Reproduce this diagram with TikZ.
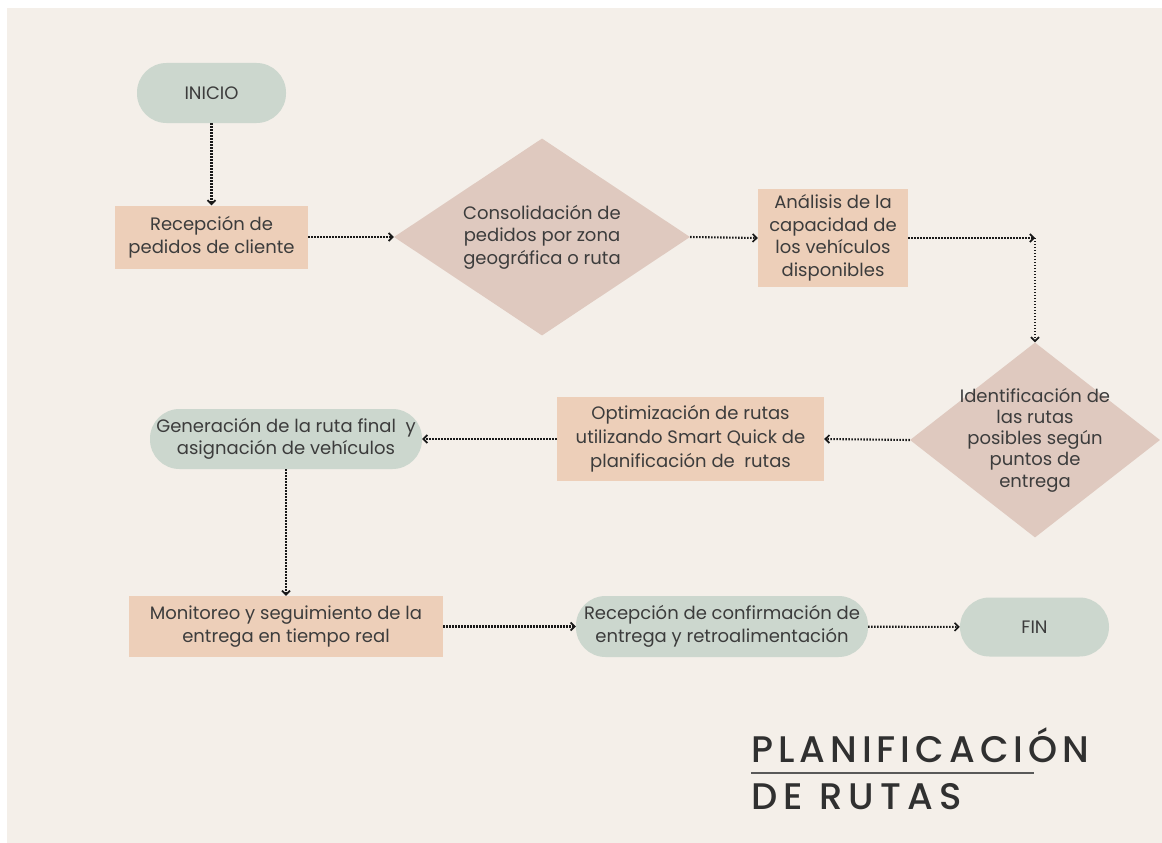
\documentclass[tikz,border=0pt]{standalone}
\usepackage{fontspec}
\setmainfont{Poppins}
\newfontfamily\titlefont[LetterSpace=13.5]{Poppins Medium}
\newfontfamily\titlefontwide[LetterSpace=17]{Poppins Medium}
\usetikzlibrary{arrows.meta,shapes.geometric}
\definecolor{paper}{HTML}{F4EFE9}
\definecolor{sage}{HTML}{CCD7CE}
\definecolor{peach}{HTML}{EDCFB9}
\definecolor{rose}{HTML}{DFC9BF}
\definecolor{ink}{HTML}{3C3C3C}
\definecolor{titleink}{HTML}{303030}

\begin{document}
\begin{tikzpicture}[x=1pt,y=-1pt,
  txt/.style={text=ink,font=\fontsize{18}{22.5}\selectfont,align=center,inner sep=0pt},
  term/.style={txt,fill=sage,rounded corners=29.5pt},
  proc/.style={txt,fill=peach},
  dec/.style={diamond,fill=rose,inner sep=0pt},
  flow/.style={line width=2.1pt,dash pattern=on 1.4pt off 1.6pt,color=black!90,
    -{Straight Barb[length=4pt,width=8pt,line width=1.7pt]}}
]
% page and paper
\useasboundingbox (0,0) rectangle (1162,843);
\fill[white] (0,0) rectangle (1162,843);
\fill[paper] (7,8) rectangle (1162,843);

% first row
\node[term,minimum width=149pt,minimum height=60pt] (start) at (211.5,93) {INICIO};
\node[proc,minimum width=193pt,minimum height=63pt] (recep) at (211.5,237) {Recepción de\\pedidos de cliente};
\node[dec,minimum width=296pt,minimum height=197pt] (cons) at (542,237) {};
\node[txt] (constext) at (cons) {Consolidación de\\pedidos por zona\\geográfica o ruta};
\node[proc,minimum width=150pt,minimum height=98pt] (anal) at (833,238) {Análisis de la\\capacidad de\\los vehículos\\disponibles};

% second row
\node[dec,minimum width=250pt,minimum height=195pt] (ident) at (1035,440) {};
\node[txt,font=\fontsize{18}{21.2}\selectfont] (identtext) at (ident) {Identificación de\\las rutas\\posibles según\\puntos de\\entrega};
\node[proc,minimum width=267pt,minimum height=84pt,font=\fontsize{18}{24}\selectfont] (optim) at (690.5,439) {Optimización de rutas\\utilizando Smart Quick de\\planificación de\ \ rutas};
\node[term,minimum width=272pt,minimum height=60pt] (gener) at (286,439) {Generación de la ruta final\ \ y\\asignación de vehículos};

% third row
\node[proc,minimum width=314pt,minimum height=61pt] (monit) at (286,626.5) {Monitoreo y seguimiento de la\\entrega en tiempo real};
\node[term,minimum width=292pt,minimum height=61pt] (confirm) at (722,626.5) {Recepción de confirmación de\\entrega y retroalimentación};
\node[term,minimum width=149pt,minimum height=59pt] (fin) at (1034.5,627) {FIN};

% connectors
\coordinate (bend) at (ident.north |- anal.east);
\draw[flow] (start) -- (recep);
\draw[flow] (recep) -- (cons.west);
\draw[flow] (cons.east) -- (anal.west);
\draw[flow] (anal.east) -- (bend);
\draw[flow] (bend) -- (ident.north);
\draw[flow] (ident.west) -- (optim.east);
\draw[flow] (optim.west) -- (gener.east);
\draw[flow] (gener) -- (monit);
\draw[flow] (monit) -- (confirm);
\draw[flow] (confirm) -- (fin);

% title
\node[anchor=base west,inner sep=0pt,text=titleink,font=\titlefont\fontsize{37}{37}\selectfont] (title1) at (751,762) {PLANIFICACIÓN};
\node[anchor=base west,inner sep=0pt,text=titleink,font=\titlefontwide\fontsize{37}{37}\selectfont] (title2) at (751,809) {DE RUTAS};
\draw[line width=1.4pt,color=black!65] (title1.base west |- 0,773) coordinate (rulestart) -- (1034,773) coordinate (ruleend);
\end{tikzpicture}
\end{document}
